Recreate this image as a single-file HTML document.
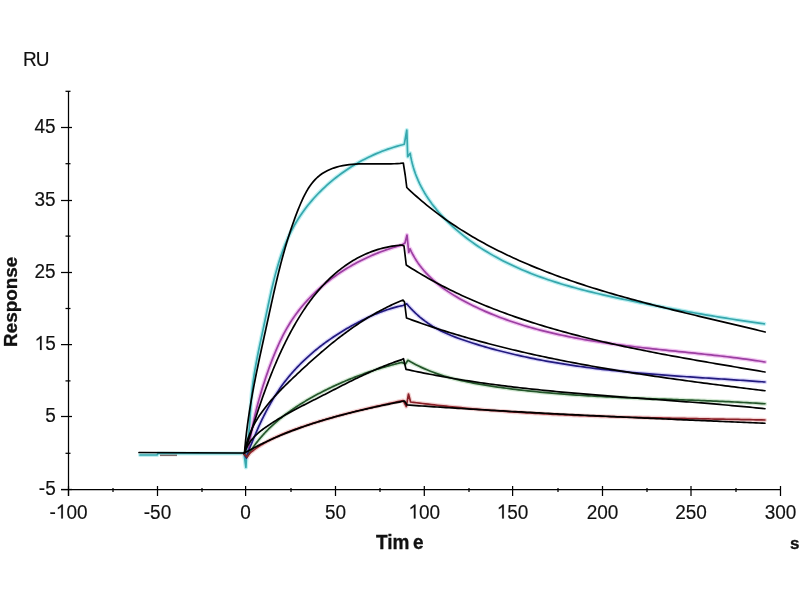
<!DOCTYPE html>
<html><head><meta charset="utf-8"><style>
html,body{margin:0;padding:0;background:#fff;width:800px;height:600px;overflow:hidden}
svg{display:block}
text{font-family:"Liberation Sans",sans-serif;fill:#111}
.lbl{will-change:transform}
</style></head><body>
<svg width="800" height="600" viewBox="0 0 800 600">
<rect width="800" height="600" fill="#fff"/>
<line x1="61" y1="489.5" x2="781" y2="489.5" stroke="#000" stroke-width="1.25"/>
<line x1="68.5" y1="91" x2="68.5" y2="496" stroke="#000" stroke-width="1.25"/>
<line x1="68.5" y1="486" x2="68.5" y2="496" stroke="#000" stroke-width="1.25"/>
<line x1="157.5" y1="486" x2="157.5" y2="496" stroke="#000" stroke-width="1.25"/>
<line x1="245.6" y1="486" x2="245.6" y2="496" stroke="#000" stroke-width="1.25"/>
<line x1="335.5" y1="486" x2="335.5" y2="496" stroke="#000" stroke-width="1.25"/>
<line x1="424.3" y1="486" x2="424.3" y2="496" stroke="#000" stroke-width="1.25"/>
<line x1="512.6" y1="486" x2="512.6" y2="496" stroke="#000" stroke-width="1.25"/>
<line x1="602.5" y1="486" x2="602.5" y2="496" stroke="#000" stroke-width="1.25"/>
<line x1="691" y1="486" x2="691" y2="496" stroke="#000" stroke-width="1.25"/>
<line x1="780.5" y1="486" x2="780.5" y2="496" stroke="#000" stroke-width="1.25"/>
<line x1="113.0" y1="488" x2="113.0" y2="492" stroke="#000" stroke-width="1.25"/>
<line x1="202.0" y1="488" x2="202.0" y2="492" stroke="#000" stroke-width="1.25"/>
<line x1="291.0" y1="488" x2="291.0" y2="492" stroke="#000" stroke-width="1.25"/>
<line x1="380.0" y1="488" x2="380.0" y2="492" stroke="#000" stroke-width="1.25"/>
<line x1="469.0" y1="488" x2="469.0" y2="492" stroke="#000" stroke-width="1.25"/>
<line x1="558.0" y1="488" x2="558.0" y2="492" stroke="#000" stroke-width="1.25"/>
<line x1="647.0" y1="488" x2="647.0" y2="492" stroke="#000" stroke-width="1.25"/>
<line x1="736.0" y1="488" x2="736.0" y2="492" stroke="#000" stroke-width="1.25"/>
<line x1="61" y1="489.5" x2="72" y2="489.5" stroke="#000" stroke-width="1.25"/>
<line x1="61" y1="416.5" x2="72" y2="416.5" stroke="#000" stroke-width="1.25"/>
<line x1="61" y1="344.6" x2="72" y2="344.6" stroke="#000" stroke-width="1.25"/>
<line x1="61" y1="272.5" x2="72" y2="272.5" stroke="#000" stroke-width="1.25"/>
<line x1="61" y1="200.5" x2="72" y2="200.5" stroke="#000" stroke-width="1.25"/>
<line x1="61" y1="127.5" x2="72" y2="127.5" stroke="#000" stroke-width="1.25"/>
<line x1="65.5" y1="453.3" x2="70.5" y2="453.3" stroke="#000" stroke-width="1.25"/>
<line x1="65.5" y1="380.9" x2="70.5" y2="380.9" stroke="#000" stroke-width="1.25"/>
<line x1="65.5" y1="308.5" x2="70.5" y2="308.5" stroke="#000" stroke-width="1.25"/>
<line x1="65.5" y1="236.1" x2="70.5" y2="236.1" stroke="#000" stroke-width="1.25"/>
<line x1="65.5" y1="163.7" x2="70.5" y2="163.7" stroke="#000" stroke-width="1.25"/>
<line x1="65.5" y1="91.30000000000001" x2="70.5" y2="91.30000000000001" stroke="#000" stroke-width="1.25"/>
<path d="M140.00 455.00 L157.00 455.00 L158.00 453.50 L244.00 453.50 L245.90 467.40 L247.00 447.50 L247.48 444.47 L247.91 441.44 L248.30 438.38 L248.64 435.32 L248.94 432.25 L249.21 429.16 L249.46 426.07 L249.68 422.98 L249.89 419.88 L250.09 416.78 L250.28 413.68 L250.47 410.58 L250.67 407.48 L250.87 404.38 L251.09 401.29 L251.33 398.20 L251.60 395.13 L251.89 392.06 L252.22 389.00 L252.58 385.95 L252.97 382.91 L253.39 379.88 L253.84 376.86 L254.30 373.84 L254.80 370.82 L255.31 367.82 L255.85 364.81 L256.40 361.81 L256.97 358.81 L257.56 355.82 L258.15 352.82 L258.76 349.83 L259.39 346.83 L260.01 343.84 L260.65 340.84 L261.29 337.84 L261.94 334.83 L262.58 331.82 L263.23 328.81 L263.88 325.79 L264.52 322.77 L265.16 319.73 L265.80 316.69 L266.43 313.65 L267.07 310.60 L267.71 307.55 L268.35 304.50 L269.00 301.45 L269.66 298.40 L270.32 295.35 L271.01 292.30 L271.70 289.26 L272.41 286.22 L273.14 283.19 L273.88 280.17 L274.65 277.15 L275.44 274.14 L276.26 271.15 L277.10 268.16 L277.97 265.19 L278.87 262.24 L279.80 259.30 L280.77 256.37 L281.78 253.46 L282.82 250.58 L283.90 247.71 L285.02 244.86 L286.19 242.03 L287.40 239.23 L288.66 236.45 L289.97 233.70 L291.33 230.97 L292.74 228.27 L294.21 225.60 L295.73 222.96 L297.31 220.35 L298.94 217.77 L300.63 215.22 L302.37 212.70 L304.16 210.22 L306.00 207.77 L307.89 205.35 L309.83 202.97 L311.81 200.62 L313.84 198.31 L315.91 196.03 L318.03 193.79 L320.19 191.59 L322.40 189.43 L324.64 187.30 L326.92 185.21 L329.24 183.16 L331.60 181.16 L334.00 179.19 L336.43 177.26 L338.89 175.37 L341.39 173.53 L343.92 171.73 L346.48 169.97 L349.07 168.26 L351.68 166.59 L354.33 164.96 L357.00 163.38 L359.70 161.85 L362.42 160.36 L365.17 158.92 L367.94 157.53 L370.73 156.19 L373.53 154.89 L376.36 153.65 L379.21 152.45 L382.07 151.31 L384.95 150.21 L387.85 149.17 L390.75 148.18 L393.67 147.24 L396.61 146.36 L399.55 145.53 L402.50 144.75 L404.30 144.20 L406.80 130.00 L407.70 156.70 L410.20 153.30 L410.80 156.88 L411.52 160.40 L412.36 163.87 L413.30 167.28 L414.35 170.64 L415.51 173.95 L416.77 177.20 L418.13 180.40 L419.58 183.55 L421.13 186.64 L422.76 189.69 L424.48 192.68 L426.29 195.62 L428.17 198.51 L430.13 201.36 L432.17 204.15 L434.28 206.89 L436.45 209.59 L438.69 212.24 L441.00 214.84 L443.36 217.39 L445.78 219.89 L448.25 222.35 L450.77 224.76 L453.33 227.13 L455.95 229.45 L458.60 231.72 L461.30 233.95 L464.04 236.14 L466.82 238.28 L469.64 240.38 L472.49 242.43 L475.38 244.45 L478.31 246.42 L481.26 248.34 L484.25 250.23 L487.26 252.07 L490.30 253.87 L493.37 255.63 L496.46 257.35 L499.58 259.03 L502.71 260.67 L505.87 262.27 L509.04 263.83 L512.23 265.35 L515.43 266.83 L518.65 268.28 L521.88 269.68 L525.12 271.05 L528.38 272.39 L531.64 273.68 L534.91 274.95 L538.20 276.18 L541.49 277.38 L544.79 278.54 L548.10 279.68 L551.42 280.79 L554.75 281.87 L558.09 282.92 L561.43 283.94 L564.78 284.94 L568.14 285.92 L571.51 286.87 L574.88 287.80 L578.26 288.71 L581.64 289.60 L585.03 290.47 L588.43 291.33 L591.83 292.16 L595.23 292.98 L598.64 293.78 L602.06 294.57 L605.47 295.35 L608.89 296.11 L612.32 296.87 L615.74 297.61 L619.17 298.34 L622.60 299.07 L626.04 299.79 L629.47 300.50 L632.91 301.20 L636.35 301.91 L639.79 302.60 L643.23 303.29 L646.67 303.98 L650.11 304.66 L653.55 305.34 L657.00 306.01 L660.44 306.67 L663.89 307.33 L667.34 307.99 L670.79 308.63 L674.24 309.28 L677.69 309.91 L681.14 310.54 L684.60 311.17 L688.05 311.79 L691.51 312.40 L694.97 313.01 L698.42 313.61 L701.88 314.21 L705.34 314.79 L708.80 315.38 L712.27 315.95 L715.73 316.52 L719.19 317.09 L722.66 317.64 L726.12 318.19 L729.59 318.74 L733.06 319.27 L736.52 319.81 L739.99 320.33 L743.46 320.85 L746.93 321.36 L750.41 321.86 L753.88 322.35 L757.35 322.84 L760.83 323.33 L764.30 323.80" stroke="#bff0f2" stroke-width="4.2" fill="none" stroke-linejoin="round" stroke-linecap="round"/>
<path d="M244.00 454.00 L246.50 457.00 L248.50 450.00 L248.82 447.74 L249.15 445.49 L249.49 443.23 L249.85 440.98 L250.23 438.72 L250.62 436.47 L251.02 434.22 L251.44 431.97 L251.87 429.72 L252.32 427.47 L252.78 425.22 L253.25 422.98 L253.74 420.73 L254.24 418.49 L254.75 416.25 L255.28 414.01 L255.82 411.77 L256.37 409.54 L256.94 407.30 L257.52 405.07 L258.11 402.84 L258.72 400.62 L259.33 398.39 L259.97 396.17 L260.61 393.96 L261.26 391.74 L261.93 389.53 L262.61 387.32 L263.30 385.11 L264.01 382.91 L264.73 380.71 L265.45 378.51 L266.19 376.31 L266.95 374.12 L267.71 371.94 L268.48 369.76 L269.27 367.58 L270.07 365.40 L270.88 363.23 L271.70 361.07 L272.53 358.91 L273.38 356.75 L274.25 354.61 L275.13 352.47 L276.02 350.34 L276.94 348.22 L277.87 346.11 L278.82 344.01 L279.79 341.92 L280.78 339.84 L281.80 337.78 L282.83 335.73 L283.89 333.69 L284.98 331.67 L286.08 329.67 L287.22 327.68 L288.38 325.71 L289.56 323.75 L290.78 321.82 L292.02 319.90 L293.30 318.00 L294.60 316.13 L295.93 314.27 L297.29 312.43 L298.68 310.62 L300.10 308.82 L301.54 307.04 L303.01 305.29 L304.50 303.55 L306.02 301.84 L307.57 300.15 L309.14 298.47 L310.73 296.82 L312.35 295.19 L313.99 293.58 L315.66 291.99 L317.34 290.42 L319.05 288.88 L320.78 287.35 L322.53 285.85 L324.30 284.37 L326.09 282.91 L327.90 281.47 L329.73 280.06 L331.57 278.66 L333.44 277.29 L335.32 275.94 L337.22 274.61 L339.13 273.31 L341.07 272.03 L343.01 270.77 L344.98 269.53 L346.95 268.31 L348.95 267.12 L350.95 265.95 L352.97 264.81 L355.00 263.68 L357.05 262.58 L359.10 261.51 L361.17 260.45 L363.25 259.42 L365.34 258.42 L367.44 257.44 L369.55 256.48 L371.66 255.54 L373.79 254.63 L375.92 253.74 L378.07 252.88 L380.21 252.04 L382.37 251.23 L384.53 250.44 L386.70 249.67 L388.87 248.93 L391.05 248.21 L393.23 247.52 L395.42 246.85 L397.61 246.21 L399.80 245.59 L402.00 245.00 L405.00 243.00 L407.00 235.00 L408.75 252.50 L410.00 248.75 L411.43 251.81 L412.96 254.77 L414.59 257.64 L416.31 260.43 L418.12 263.13 L420.02 265.75 L422.00 268.29 L424.06 270.76 L426.19 273.15 L428.39 275.46 L430.67 277.70 L433.01 279.88 L435.41 281.99 L437.86 284.04 L440.38 286.02 L442.94 287.95 L445.55 289.82 L448.20 291.64 L450.90 293.40 L453.63 295.12 L456.40 296.79 L459.20 298.41 L462.02 299.99 L464.86 301.53 L467.73 303.03 L470.61 304.50 L473.51 305.93 L476.42 307.34 L479.34 308.71 L482.27 310.04 L485.21 311.35 L488.17 312.62 L491.14 313.87 L494.12 315.08 L497.11 316.27 L500.11 317.43 L503.13 318.56 L506.15 319.66 L509.19 320.73 L512.23 321.78 L515.28 322.80 L518.35 323.79 L521.42 324.76 L524.50 325.71 L527.59 326.63 L530.69 327.52 L533.80 328.40 L536.92 329.25 L540.04 330.07 L543.17 330.88 L546.31 331.66 L549.46 332.43 L552.61 333.17 L555.78 333.89 L558.94 334.60 L562.12 335.28 L565.30 335.95 L568.48 336.60 L571.68 337.23 L574.87 337.85 L578.08 338.44 L581.28 339.03 L584.50 339.59 L587.71 340.14 L590.93 340.68 L594.16 341.21 L597.39 341.72 L600.62 342.21 L603.86 342.70 L607.10 343.17 L610.34 343.63 L613.59 344.08 L616.83 344.52 L620.08 344.95 L623.34 345.37 L626.59 345.78 L629.85 346.19 L633.10 346.58 L636.36 346.97 L639.62 347.35 L642.88 347.72 L646.14 348.09 L649.40 348.45 L652.66 348.81 L655.92 349.16 L659.18 349.51 L662.44 349.86 L665.70 350.20 L668.96 350.54 L672.21 350.88 L675.47 351.21 L678.72 351.55 L681.97 351.88 L685.22 352.22 L688.46 352.55 L691.70 352.89 L694.94 353.22 L698.18 353.56 L701.41 353.90 L704.64 354.25 L707.87 354.60 L711.09 354.95 L714.31 355.30 L717.52 355.66 L720.73 356.03 L723.93 356.40 L727.13 356.78 L730.32 357.17 L733.50 357.56 L736.68 357.96 L739.86 358.37 L743.03 358.79 L746.19 359.21 L749.34 359.65 L752.49 360.10 L755.63 360.56 L758.76 361.03 L761.88 361.51 L765.00 362.00" stroke="#f2c6f2" stroke-width="4.2" fill="none" stroke-linejoin="round" stroke-linecap="round"/>
<path d="M244.00 454.00 L246.50 458.00 L249.00 450.00 L249.67 448.27 L250.35 446.54 L251.04 444.81 L251.73 443.08 L252.43 441.35 L253.13 439.63 L253.84 437.91 L254.56 436.19 L255.28 434.48 L256.02 432.77 L256.76 431.06 L257.51 429.36 L258.27 427.66 L259.03 425.97 L259.81 424.28 L260.59 422.59 L261.39 420.92 L262.19 419.24 L263.01 417.57 L263.83 415.91 L264.67 414.26 L265.51 412.61 L266.37 410.97 L267.24 409.33 L268.12 407.70 L269.01 406.08 L269.91 404.47 L270.83 402.86 L271.76 401.27 L272.70 399.68 L273.65 398.10 L274.62 396.53 L275.60 394.97 L276.59 393.42 L277.60 391.88 L278.62 390.35 L279.66 388.83 L280.71 387.32 L281.78 385.82 L282.86 384.33 L283.96 382.85 L285.07 381.38 L286.20 379.93 L287.35 378.49 L288.51 377.06 L289.68 375.64 L290.87 374.23 L292.08 372.84 L293.30 371.45 L294.54 370.08 L295.79 368.72 L297.05 367.38 L298.33 366.04 L299.62 364.72 L300.93 363.41 L302.25 362.11 L303.58 360.82 L304.92 359.54 L306.28 358.28 L307.65 357.02 L309.03 355.78 L310.42 354.55 L311.83 353.34 L313.24 352.13 L314.67 350.94 L316.11 349.75 L317.56 348.58 L319.02 347.42 L320.49 346.28 L321.97 345.14 L323.46 344.02 L324.96 342.91 L326.47 341.81 L327.98 340.72 L329.51 339.64 L331.05 338.58 L332.59 337.52 L334.14 336.48 L335.70 335.45 L337.27 334.44 L338.85 333.43 L340.43 332.43 L342.02 331.45 L343.62 330.48 L345.22 329.52 L346.83 328.57 L348.45 327.64 L350.07 326.71 L351.70 325.80 L353.33 324.90 L354.97 324.01 L356.62 323.13 L358.27 322.26 L359.92 321.41 L361.58 320.57 L363.24 319.74 L364.91 318.92 L366.58 318.11 L368.26 317.32 L369.94 316.55 L371.63 315.79 L373.32 315.05 L375.02 314.32 L376.72 313.61 L378.43 312.92 L380.15 312.25 L381.87 311.59 L383.59 310.96 L385.33 310.35 L387.06 309.76 L388.81 309.19 L390.56 308.64 L392.32 308.12 L394.08 307.62 L395.85 307.14 L397.63 306.69 L399.41 306.27 L401.20 305.87 L403.00 305.50 L406.70 303.75 L408.80 306.21 L410.97 308.58 L413.19 310.88 L415.46 313.10 L417.79 315.25 L420.18 317.31 L422.61 319.28 L425.10 321.18 L427.64 323.00 L430.22 324.74 L432.86 326.39 L435.54 327.96 L438.26 329.46 L441.02 330.89 L443.82 332.25 L446.65 333.54 L449.52 334.78 L452.41 335.97 L455.32 337.11 L458.25 338.21 L461.20 339.27 L464.17 340.30 L467.15 341.30 L470.13 342.27 L473.12 343.23 L476.12 344.16 L479.12 345.08 L482.12 345.98 L485.13 346.86 L488.15 347.72 L491.17 348.57 L494.19 349.40 L497.22 350.21 L500.25 351.00 L503.28 351.78 L506.32 352.54 L509.37 353.28 L512.41 354.01 L515.46 354.73 L518.52 355.42 L521.58 356.11 L524.64 356.77 L527.71 357.43 L530.77 358.07 L533.85 358.69 L536.92 359.30 L540.00 359.90 L543.08 360.48 L546.17 361.05 L549.26 361.60 L552.35 362.15 L555.44 362.68 L558.54 363.20 L561.64 363.70 L564.74 364.20 L567.84 364.68 L570.95 365.15 L574.06 365.61 L577.17 366.06 L580.28 366.50 L583.40 366.92 L586.52 367.34 L589.64 367.75 L592.76 368.15 L595.88 368.54 L599.00 368.92 L602.13 369.29 L605.26 369.65 L608.39 370.00 L611.52 370.35 L614.65 370.68 L617.78 371.01 L620.92 371.33 L624.05 371.64 L627.19 371.95 L630.33 372.25 L633.47 372.54 L636.61 372.83 L639.75 373.11 L642.89 373.39 L646.03 373.65 L649.17 373.92 L652.31 374.18 L655.45 374.43 L658.59 374.68 L661.74 374.92 L664.88 375.16 L668.02 375.40 L671.16 375.63 L674.31 375.86 L677.45 376.08 L680.59 376.30 L683.73 376.52 L686.87 376.74 L690.01 376.95 L693.15 377.16 L696.29 377.37 L699.43 377.58 L702.56 377.79 L705.70 378.00 L708.83 378.20 L711.97 378.40 L715.10 378.61 L718.23 378.81 L721.36 379.02 L724.49 379.22 L727.62 379.42 L730.74 379.63 L733.87 379.83 L736.99 380.04 L740.11 380.25 L743.23 380.46 L746.35 380.67 L749.46 380.89 L752.57 381.10 L755.68 381.32 L758.79 381.55 L761.90 381.77 L765.00 382.00" stroke="#dcd8fa" stroke-width="4.2" fill="none" stroke-linejoin="round" stroke-linecap="round"/>
<path d="M244.00 454.00 L247.00 457.00 L250.00 452.00 L250.82 450.72 L251.66 449.46 L252.51 448.20 L253.38 446.96 L254.26 445.73 L255.15 444.52 L256.06 443.31 L256.97 442.12 L257.91 440.94 L258.85 439.77 L259.81 438.61 L260.78 437.47 L261.76 436.33 L262.76 435.21 L263.76 434.09 L264.78 432.99 L265.81 431.90 L266.85 430.82 L267.90 429.75 L268.96 428.69 L270.04 427.65 L271.12 426.61 L272.22 425.58 L273.32 424.56 L274.43 423.56 L275.56 422.56 L276.69 421.57 L277.84 420.59 L278.99 419.63 L280.15 418.67 L281.32 417.72 L282.50 416.78 L283.69 415.85 L284.88 414.93 L286.09 414.02 L287.30 413.12 L288.52 412.22 L289.74 411.34 L290.98 410.46 L292.22 409.59 L293.47 408.73 L294.73 407.88 L295.99 407.04 L297.26 406.20 L298.53 405.38 L299.81 404.56 L301.10 403.75 L302.39 402.94 L303.69 402.15 L305.00 401.36 L306.30 400.58 L307.62 399.81 L308.94 399.04 L310.26 398.28 L311.59 397.53 L312.92 396.79 L314.26 396.05 L315.60 395.32 L316.94 394.59 L318.29 393.87 L319.64 393.16 L320.99 392.46 L322.35 391.76 L323.71 391.06 L325.07 390.38 L326.43 389.70 L327.80 389.02 L329.17 388.36 L330.55 387.69 L331.92 387.04 L333.30 386.39 L334.69 385.75 L336.07 385.11 L337.46 384.48 L338.85 383.86 L340.24 383.24 L341.63 382.63 L343.03 382.02 L344.43 381.42 L345.83 380.83 L347.24 380.24 L348.64 379.66 L350.05 379.09 L351.46 378.52 L352.87 377.95 L354.29 377.40 L355.70 376.85 L357.12 376.30 L358.54 375.76 L359.96 375.23 L361.39 374.71 L362.81 374.19 L364.24 373.67 L365.67 373.16 L367.10 372.66 L368.53 372.16 L369.97 371.67 L371.40 371.19 L372.84 370.71 L374.28 370.24 L375.72 369.77 L377.16 369.31 L378.60 368.86 L380.04 368.41 L381.48 367.97 L382.93 367.53 L384.38 367.10 L385.82 366.68 L387.27 366.26 L388.72 365.85 L390.17 365.44 L391.62 365.04 L393.07 364.65 L394.53 364.26 L395.98 363.87 L397.43 363.50 L398.89 363.13 L400.34 362.76 L401.80 362.40 L405.50 364.00 L407.90 360.30 L410.56 361.84 L413.25 363.31 L415.95 364.72 L418.68 366.07 L421.43 367.37 L424.19 368.62 L426.97 369.81 L429.77 370.95 L432.59 372.04 L435.42 373.09 L438.27 374.09 L441.14 375.04 L444.02 375.95 L446.91 376.82 L449.81 377.66 L452.73 378.45 L455.66 379.21 L458.59 379.93 L461.54 380.63 L464.50 381.29 L467.47 381.92 L470.44 382.53 L473.42 383.11 L476.41 383.67 L479.40 384.20 L482.40 384.71 L485.41 385.21 L488.42 385.69 L491.43 386.15 L494.44 386.60 L497.46 387.04 L500.47 387.46 L503.49 387.88 L506.51 388.28 L509.53 388.67 L512.55 389.06 L515.58 389.43 L518.60 389.79 L521.63 390.14 L524.66 390.49 L527.69 390.82 L530.72 391.15 L533.75 391.46 L536.78 391.77 L539.81 392.07 L542.85 392.35 L545.88 392.64 L548.92 392.91 L551.96 393.17 L555.00 393.43 L558.03 393.68 L561.07 393.92 L564.12 394.16 L567.16 394.39 L570.20 394.61 L573.24 394.83 L576.29 395.04 L579.33 395.24 L582.38 395.44 L585.42 395.63 L588.47 395.81 L591.52 395.99 L594.56 396.17 L597.61 396.34 L600.66 396.50 L603.71 396.66 L606.76 396.82 L609.80 396.97 L612.85 397.12 L615.90 397.27 L618.95 397.41 L622.00 397.54 L625.06 397.68 L628.11 397.81 L631.16 397.94 L634.21 398.06 L637.26 398.19 L640.31 398.31 L643.36 398.43 L646.41 398.55 L649.46 398.66 L652.51 398.78 L655.56 398.89 L658.61 399.00 L661.66 399.11 L664.71 399.22 L667.76 399.33 L670.81 399.44 L673.86 399.55 L676.91 399.66 L679.96 399.77 L683.00 399.88 L686.05 399.99 L689.10 400.10 L692.14 400.22 L695.19 400.33 L698.23 400.45 L701.28 400.56 L704.32 400.68 L707.36 400.80 L710.41 400.93 L713.45 401.05 L716.49 401.18 L719.53 401.31 L722.57 401.45 L725.60 401.58 L728.64 401.72 L731.68 401.87 L734.71 402.02 L737.75 402.17 L740.78 402.33 L743.81 402.49 L746.84 402.65 L749.87 402.82 L752.90 403.00 L755.93 403.18 L758.95 403.36 L761.98 403.55 L765.00 403.75" stroke="#d6ead6" stroke-width="4.2" fill="none" stroke-linejoin="round" stroke-linecap="round"/>
<path d="M244.00 454.00 L247.00 457.00 L250.00 453.00 L251.04 452.14 L252.10 451.31 L253.17 450.49 L254.25 449.68 L255.33 448.89 L256.44 448.11 L257.55 447.35 L258.67 446.60 L259.80 445.87 L260.94 445.15 L262.08 444.44 L263.24 443.75 L264.41 443.06 L265.58 442.39 L266.77 441.73 L267.96 441.09 L269.16 440.45 L270.36 439.83 L271.58 439.21 L272.80 438.61 L274.02 438.02 L275.26 437.43 L276.50 436.86 L277.74 436.29 L278.99 435.74 L280.25 435.19 L281.51 434.65 L282.77 434.12 L284.04 433.59 L285.32 433.08 L286.60 432.57 L287.88 432.06 L289.16 431.57 L290.45 431.08 L291.74 430.59 L293.04 430.11 L294.33 429.64 L295.63 429.17 L296.93 428.71 L298.23 428.25 L299.54 427.79 L300.84 427.34 L302.15 426.89 L303.45 426.45 L304.76 426.01 L306.07 425.57 L307.38 425.13 L308.69 424.70 L310.00 424.28 L311.31 423.85 L312.63 423.43 L313.94 423.01 L315.25 422.60 L316.57 422.19 L317.89 421.78 L319.20 421.38 L320.52 420.98 L321.84 420.58 L323.16 420.18 L324.48 419.79 L325.80 419.40 L327.12 419.02 L328.45 418.63 L329.77 418.25 L331.09 417.87 L332.42 417.50 L333.74 417.13 L335.07 416.76 L336.40 416.39 L337.72 416.02 L339.05 415.66 L340.38 415.30 L341.71 414.95 L343.04 414.59 L344.37 414.24 L345.70 413.89 L347.03 413.54 L348.36 413.20 L349.69 412.85 L351.02 412.51 L352.36 412.17 L353.69 411.84 L355.03 411.50 L356.36 411.17 L357.69 410.84 L359.03 410.51 L360.36 410.18 L361.70 409.86 L363.04 409.54 L364.37 409.21 L365.71 408.89 L367.05 408.58 L368.38 408.26 L369.72 407.95 L371.06 407.63 L372.40 407.32 L373.73 407.01 L375.07 406.70 L376.41 406.40 L377.75 406.09 L379.09 405.79 L380.43 405.48 L381.77 405.18 L383.11 404.88 L384.45 404.58 L385.79 404.29 L387.13 403.99 L388.47 403.69 L389.80 403.40 L391.14 403.10 L392.48 402.81 L393.82 402.52 L395.16 402.23 L396.50 401.94 L397.84 401.65 L399.18 401.36 L400.52 401.07 L401.86 400.79 L403.20 400.50 L406.30 406.50 L408.50 394.00 L410.60 402.00 L413.56 402.38 L416.52 402.76 L419.48 403.13 L422.44 403.50 L425.40 403.85 L428.36 404.21 L431.32 404.55 L434.29 404.89 L437.25 405.23 L440.21 405.55 L443.18 405.88 L446.14 406.19 L449.11 406.50 L452.08 406.81 L455.04 407.11 L458.01 407.40 L460.98 407.69 L463.95 407.98 L466.92 408.26 L469.89 408.53 L472.86 408.80 L475.83 409.06 L478.80 409.32 L481.77 409.57 L484.74 409.82 L487.71 410.06 L490.69 410.30 L493.66 410.53 L496.63 410.76 L499.61 410.99 L502.58 411.21 L505.56 411.42 L508.53 411.63 L511.51 411.84 L514.48 412.04 L517.46 412.24 L520.44 412.43 L523.41 412.62 L526.39 412.81 L529.37 412.99 L532.35 413.17 L535.33 413.34 L538.31 413.51 L541.29 413.68 L544.26 413.84 L547.24 414.00 L550.22 414.16 L553.20 414.31 L556.19 414.46 L559.17 414.60 L562.15 414.74 L565.13 414.88 L568.11 415.02 L571.09 415.15 L574.07 415.28 L577.06 415.41 L580.04 415.53 L583.02 415.65 L586.00 415.77 L588.99 415.88 L591.97 416.00 L594.95 416.10 L597.94 416.21 L600.92 416.32 L603.90 416.42 L606.89 416.52 L609.87 416.62 L612.86 416.71 L615.84 416.80 L618.82 416.89 L621.81 416.98 L624.79 417.07 L627.78 417.15 L630.76 417.24 L633.75 417.32 L636.73 417.40 L639.72 417.47 L642.70 417.55 L645.69 417.62 L648.67 417.70 L651.66 417.77 L654.64 417.84 L657.62 417.91 L660.61 417.97 L663.59 418.04 L666.58 418.10 L669.56 418.17 L672.55 418.23 L675.53 418.29 L678.52 418.35 L681.50 418.41 L684.49 418.47 L687.47 418.53 L690.45 418.59 L693.44 418.65 L696.42 418.70 L699.41 418.76 L702.39 418.81 L705.37 418.87 L708.36 418.93 L711.34 418.98 L714.32 419.04 L717.31 419.09 L720.29 419.14 L723.27 419.20 L726.25 419.25 L729.23 419.31 L732.22 419.36 L735.20 419.42 L738.18 419.47 L741.16 419.53 L744.14 419.59 L747.12 419.64 L750.10 419.70 L753.08 419.76 L756.06 419.82 L759.04 419.88 L762.02 419.94 L765.00 420.00" stroke="#f2d2d2" stroke-width="4.2" fill="none" stroke-linejoin="round" stroke-linecap="round"/>
<line x1="160" y1="455.3" x2="177" y2="455.3" stroke="#7a6a6a" stroke-width="1.6"/>
<path d="M140.00 455.00 L157.00 455.00 L158.00 453.50 L244.00 453.50 L245.90 467.40 L247.00 447.50 L247.48 444.47 L247.91 441.44 L248.30 438.38 L248.64 435.32 L248.94 432.25 L249.21 429.16 L249.46 426.07 L249.68 422.98 L249.89 419.88 L250.09 416.78 L250.28 413.68 L250.47 410.58 L250.67 407.48 L250.87 404.38 L251.09 401.29 L251.33 398.20 L251.60 395.13 L251.89 392.06 L252.22 389.00 L252.58 385.95 L252.97 382.91 L253.39 379.88 L253.84 376.86 L254.30 373.84 L254.80 370.82 L255.31 367.82 L255.85 364.81 L256.40 361.81 L256.97 358.81 L257.56 355.82 L258.15 352.82 L258.76 349.83 L259.39 346.83 L260.01 343.84 L260.65 340.84 L261.29 337.84 L261.94 334.83 L262.58 331.82 L263.23 328.81 L263.88 325.79 L264.52 322.77 L265.16 319.73 L265.80 316.69 L266.43 313.65 L267.07 310.60 L267.71 307.55 L268.35 304.50 L269.00 301.45 L269.66 298.40 L270.32 295.35 L271.01 292.30 L271.70 289.26 L272.41 286.22 L273.14 283.19 L273.88 280.17 L274.65 277.15 L275.44 274.14 L276.26 271.15 L277.10 268.16 L277.97 265.19 L278.87 262.24 L279.80 259.30 L280.77 256.37 L281.78 253.46 L282.82 250.58 L283.90 247.71 L285.02 244.86 L286.19 242.03 L287.40 239.23 L288.66 236.45 L289.97 233.70 L291.33 230.97 L292.74 228.27 L294.21 225.60 L295.73 222.96 L297.31 220.35 L298.94 217.77 L300.63 215.22 L302.37 212.70 L304.16 210.22 L306.00 207.77 L307.89 205.35 L309.83 202.97 L311.81 200.62 L313.84 198.31 L315.91 196.03 L318.03 193.79 L320.19 191.59 L322.40 189.43 L324.64 187.30 L326.92 185.21 L329.24 183.16 L331.60 181.16 L334.00 179.19 L336.43 177.26 L338.89 175.37 L341.39 173.53 L343.92 171.73 L346.48 169.97 L349.07 168.26 L351.68 166.59 L354.33 164.96 L357.00 163.38 L359.70 161.85 L362.42 160.36 L365.17 158.92 L367.94 157.53 L370.73 156.19 L373.53 154.89 L376.36 153.65 L379.21 152.45 L382.07 151.31 L384.95 150.21 L387.85 149.17 L390.75 148.18 L393.67 147.24 L396.61 146.36 L399.55 145.53 L402.50 144.75 L404.30 144.20 L406.80 130.00 L407.70 156.70 L410.20 153.30 L410.80 156.88 L411.52 160.40 L412.36 163.87 L413.30 167.28 L414.35 170.64 L415.51 173.95 L416.77 177.20 L418.13 180.40 L419.58 183.55 L421.13 186.64 L422.76 189.69 L424.48 192.68 L426.29 195.62 L428.17 198.51 L430.13 201.36 L432.17 204.15 L434.28 206.89 L436.45 209.59 L438.69 212.24 L441.00 214.84 L443.36 217.39 L445.78 219.89 L448.25 222.35 L450.77 224.76 L453.33 227.13 L455.95 229.45 L458.60 231.72 L461.30 233.95 L464.04 236.14 L466.82 238.28 L469.64 240.38 L472.49 242.43 L475.38 244.45 L478.31 246.42 L481.26 248.34 L484.25 250.23 L487.26 252.07 L490.30 253.87 L493.37 255.63 L496.46 257.35 L499.58 259.03 L502.71 260.67 L505.87 262.27 L509.04 263.83 L512.23 265.35 L515.43 266.83 L518.65 268.28 L521.88 269.68 L525.12 271.05 L528.38 272.39 L531.64 273.68 L534.91 274.95 L538.20 276.18 L541.49 277.38 L544.79 278.54 L548.10 279.68 L551.42 280.79 L554.75 281.87 L558.09 282.92 L561.43 283.94 L564.78 284.94 L568.14 285.92 L571.51 286.87 L574.88 287.80 L578.26 288.71 L581.64 289.60 L585.03 290.47 L588.43 291.33 L591.83 292.16 L595.23 292.98 L598.64 293.78 L602.06 294.57 L605.47 295.35 L608.89 296.11 L612.32 296.87 L615.74 297.61 L619.17 298.34 L622.60 299.07 L626.04 299.79 L629.47 300.50 L632.91 301.20 L636.35 301.91 L639.79 302.60 L643.23 303.29 L646.67 303.98 L650.11 304.66 L653.55 305.34 L657.00 306.01 L660.44 306.67 L663.89 307.33 L667.34 307.99 L670.79 308.63 L674.24 309.28 L677.69 309.91 L681.14 310.54 L684.60 311.17 L688.05 311.79 L691.51 312.40 L694.97 313.01 L698.42 313.61 L701.88 314.21 L705.34 314.79 L708.80 315.38 L712.27 315.95 L715.73 316.52 L719.19 317.09 L722.66 317.64 L726.12 318.19 L729.59 318.74 L733.06 319.27 L736.52 319.81 L739.99 320.33 L743.46 320.85 L746.93 321.36 L750.41 321.86 L753.88 322.35 L757.35 322.84 L760.83 323.33 L764.30 323.80" stroke="#36a7ad" stroke-width="1.7" fill="none" stroke-linejoin="round" stroke-linecap="round"/>
<path d="M244.00 454.00 L246.50 457.00 L248.50 450.00 L248.82 447.74 L249.15 445.49 L249.49 443.23 L249.85 440.98 L250.23 438.72 L250.62 436.47 L251.02 434.22 L251.44 431.97 L251.87 429.72 L252.32 427.47 L252.78 425.22 L253.25 422.98 L253.74 420.73 L254.24 418.49 L254.75 416.25 L255.28 414.01 L255.82 411.77 L256.37 409.54 L256.94 407.30 L257.52 405.07 L258.11 402.84 L258.72 400.62 L259.33 398.39 L259.97 396.17 L260.61 393.96 L261.26 391.74 L261.93 389.53 L262.61 387.32 L263.30 385.11 L264.01 382.91 L264.73 380.71 L265.45 378.51 L266.19 376.31 L266.95 374.12 L267.71 371.94 L268.48 369.76 L269.27 367.58 L270.07 365.40 L270.88 363.23 L271.70 361.07 L272.53 358.91 L273.38 356.75 L274.25 354.61 L275.13 352.47 L276.02 350.34 L276.94 348.22 L277.87 346.11 L278.82 344.01 L279.79 341.92 L280.78 339.84 L281.80 337.78 L282.83 335.73 L283.89 333.69 L284.98 331.67 L286.08 329.67 L287.22 327.68 L288.38 325.71 L289.56 323.75 L290.78 321.82 L292.02 319.90 L293.30 318.00 L294.60 316.13 L295.93 314.27 L297.29 312.43 L298.68 310.62 L300.10 308.82 L301.54 307.04 L303.01 305.29 L304.50 303.55 L306.02 301.84 L307.57 300.15 L309.14 298.47 L310.73 296.82 L312.35 295.19 L313.99 293.58 L315.66 291.99 L317.34 290.42 L319.05 288.88 L320.78 287.35 L322.53 285.85 L324.30 284.37 L326.09 282.91 L327.90 281.47 L329.73 280.06 L331.57 278.66 L333.44 277.29 L335.32 275.94 L337.22 274.61 L339.13 273.31 L341.07 272.03 L343.01 270.77 L344.98 269.53 L346.95 268.31 L348.95 267.12 L350.95 265.95 L352.97 264.81 L355.00 263.68 L357.05 262.58 L359.10 261.51 L361.17 260.45 L363.25 259.42 L365.34 258.42 L367.44 257.44 L369.55 256.48 L371.66 255.54 L373.79 254.63 L375.92 253.74 L378.07 252.88 L380.21 252.04 L382.37 251.23 L384.53 250.44 L386.70 249.67 L388.87 248.93 L391.05 248.21 L393.23 247.52 L395.42 246.85 L397.61 246.21 L399.80 245.59 L402.00 245.00 L405.00 243.00 L407.00 235.00 L408.75 252.50 L410.00 248.75 L411.43 251.81 L412.96 254.77 L414.59 257.64 L416.31 260.43 L418.12 263.13 L420.02 265.75 L422.00 268.29 L424.06 270.76 L426.19 273.15 L428.39 275.46 L430.67 277.70 L433.01 279.88 L435.41 281.99 L437.86 284.04 L440.38 286.02 L442.94 287.95 L445.55 289.82 L448.20 291.64 L450.90 293.40 L453.63 295.12 L456.40 296.79 L459.20 298.41 L462.02 299.99 L464.86 301.53 L467.73 303.03 L470.61 304.50 L473.51 305.93 L476.42 307.34 L479.34 308.71 L482.27 310.04 L485.21 311.35 L488.17 312.62 L491.14 313.87 L494.12 315.08 L497.11 316.27 L500.11 317.43 L503.13 318.56 L506.15 319.66 L509.19 320.73 L512.23 321.78 L515.28 322.80 L518.35 323.79 L521.42 324.76 L524.50 325.71 L527.59 326.63 L530.69 327.52 L533.80 328.40 L536.92 329.25 L540.04 330.07 L543.17 330.88 L546.31 331.66 L549.46 332.43 L552.61 333.17 L555.78 333.89 L558.94 334.60 L562.12 335.28 L565.30 335.95 L568.48 336.60 L571.68 337.23 L574.87 337.85 L578.08 338.44 L581.28 339.03 L584.50 339.59 L587.71 340.14 L590.93 340.68 L594.16 341.21 L597.39 341.72 L600.62 342.21 L603.86 342.70 L607.10 343.17 L610.34 343.63 L613.59 344.08 L616.83 344.52 L620.08 344.95 L623.34 345.37 L626.59 345.78 L629.85 346.19 L633.10 346.58 L636.36 346.97 L639.62 347.35 L642.88 347.72 L646.14 348.09 L649.40 348.45 L652.66 348.81 L655.92 349.16 L659.18 349.51 L662.44 349.86 L665.70 350.20 L668.96 350.54 L672.21 350.88 L675.47 351.21 L678.72 351.55 L681.97 351.88 L685.22 352.22 L688.46 352.55 L691.70 352.89 L694.94 353.22 L698.18 353.56 L701.41 353.90 L704.64 354.25 L707.87 354.60 L711.09 354.95 L714.31 355.30 L717.52 355.66 L720.73 356.03 L723.93 356.40 L727.13 356.78 L730.32 357.17 L733.50 357.56 L736.68 357.96 L739.86 358.37 L743.03 358.79 L746.19 359.21 L749.34 359.65 L752.49 360.10 L755.63 360.56 L758.76 361.03 L761.88 361.51 L765.00 362.00" stroke="#9c3fa2" stroke-width="1.7" fill="none" stroke-linejoin="round" stroke-linecap="round"/>
<path d="M244.00 454.00 L246.50 458.00 L249.00 450.00 L249.67 448.27 L250.35 446.54 L251.04 444.81 L251.73 443.08 L252.43 441.35 L253.13 439.63 L253.84 437.91 L254.56 436.19 L255.28 434.48 L256.02 432.77 L256.76 431.06 L257.51 429.36 L258.27 427.66 L259.03 425.97 L259.81 424.28 L260.59 422.59 L261.39 420.92 L262.19 419.24 L263.01 417.57 L263.83 415.91 L264.67 414.26 L265.51 412.61 L266.37 410.97 L267.24 409.33 L268.12 407.70 L269.01 406.08 L269.91 404.47 L270.83 402.86 L271.76 401.27 L272.70 399.68 L273.65 398.10 L274.62 396.53 L275.60 394.97 L276.59 393.42 L277.60 391.88 L278.62 390.35 L279.66 388.83 L280.71 387.32 L281.78 385.82 L282.86 384.33 L283.96 382.85 L285.07 381.38 L286.20 379.93 L287.35 378.49 L288.51 377.06 L289.68 375.64 L290.87 374.23 L292.08 372.84 L293.30 371.45 L294.54 370.08 L295.79 368.72 L297.05 367.38 L298.33 366.04 L299.62 364.72 L300.93 363.41 L302.25 362.11 L303.58 360.82 L304.92 359.54 L306.28 358.28 L307.65 357.02 L309.03 355.78 L310.42 354.55 L311.83 353.34 L313.24 352.13 L314.67 350.94 L316.11 349.75 L317.56 348.58 L319.02 347.42 L320.49 346.28 L321.97 345.14 L323.46 344.02 L324.96 342.91 L326.47 341.81 L327.98 340.72 L329.51 339.64 L331.05 338.58 L332.59 337.52 L334.14 336.48 L335.70 335.45 L337.27 334.44 L338.85 333.43 L340.43 332.43 L342.02 331.45 L343.62 330.48 L345.22 329.52 L346.83 328.57 L348.45 327.64 L350.07 326.71 L351.70 325.80 L353.33 324.90 L354.97 324.01 L356.62 323.13 L358.27 322.26 L359.92 321.41 L361.58 320.57 L363.24 319.74 L364.91 318.92 L366.58 318.11 L368.26 317.32 L369.94 316.55 L371.63 315.79 L373.32 315.05 L375.02 314.32 L376.72 313.61 L378.43 312.92 L380.15 312.25 L381.87 311.59 L383.59 310.96 L385.33 310.35 L387.06 309.76 L388.81 309.19 L390.56 308.64 L392.32 308.12 L394.08 307.62 L395.85 307.14 L397.63 306.69 L399.41 306.27 L401.20 305.87 L403.00 305.50 L406.70 303.75 L408.80 306.21 L410.97 308.58 L413.19 310.88 L415.46 313.10 L417.79 315.25 L420.18 317.31 L422.61 319.28 L425.10 321.18 L427.64 323.00 L430.22 324.74 L432.86 326.39 L435.54 327.96 L438.26 329.46 L441.02 330.89 L443.82 332.25 L446.65 333.54 L449.52 334.78 L452.41 335.97 L455.32 337.11 L458.25 338.21 L461.20 339.27 L464.17 340.30 L467.15 341.30 L470.13 342.27 L473.12 343.23 L476.12 344.16 L479.12 345.08 L482.12 345.98 L485.13 346.86 L488.15 347.72 L491.17 348.57 L494.19 349.40 L497.22 350.21 L500.25 351.00 L503.28 351.78 L506.32 352.54 L509.37 353.28 L512.41 354.01 L515.46 354.73 L518.52 355.42 L521.58 356.11 L524.64 356.77 L527.71 357.43 L530.77 358.07 L533.85 358.69 L536.92 359.30 L540.00 359.90 L543.08 360.48 L546.17 361.05 L549.26 361.60 L552.35 362.15 L555.44 362.68 L558.54 363.20 L561.64 363.70 L564.74 364.20 L567.84 364.68 L570.95 365.15 L574.06 365.61 L577.17 366.06 L580.28 366.50 L583.40 366.92 L586.52 367.34 L589.64 367.75 L592.76 368.15 L595.88 368.54 L599.00 368.92 L602.13 369.29 L605.26 369.65 L608.39 370.00 L611.52 370.35 L614.65 370.68 L617.78 371.01 L620.92 371.33 L624.05 371.64 L627.19 371.95 L630.33 372.25 L633.47 372.54 L636.61 372.83 L639.75 373.11 L642.89 373.39 L646.03 373.65 L649.17 373.92 L652.31 374.18 L655.45 374.43 L658.59 374.68 L661.74 374.92 L664.88 375.16 L668.02 375.40 L671.16 375.63 L674.31 375.86 L677.45 376.08 L680.59 376.30 L683.73 376.52 L686.87 376.74 L690.01 376.95 L693.15 377.16 L696.29 377.37 L699.43 377.58 L702.56 377.79 L705.70 378.00 L708.83 378.20 L711.97 378.40 L715.10 378.61 L718.23 378.81 L721.36 379.02 L724.49 379.22 L727.62 379.42 L730.74 379.63 L733.87 379.83 L736.99 380.04 L740.11 380.25 L743.23 380.46 L746.35 380.67 L749.46 380.89 L752.57 381.10 L755.68 381.32 L758.79 381.55 L761.90 381.77 L765.00 382.00" stroke="#221a80" stroke-width="1.7" fill="none" stroke-linejoin="round" stroke-linecap="round"/>
<path d="M244.00 454.00 L247.00 457.00 L250.00 452.00 L250.82 450.72 L251.66 449.46 L252.51 448.20 L253.38 446.96 L254.26 445.73 L255.15 444.52 L256.06 443.31 L256.97 442.12 L257.91 440.94 L258.85 439.77 L259.81 438.61 L260.78 437.47 L261.76 436.33 L262.76 435.21 L263.76 434.09 L264.78 432.99 L265.81 431.90 L266.85 430.82 L267.90 429.75 L268.96 428.69 L270.04 427.65 L271.12 426.61 L272.22 425.58 L273.32 424.56 L274.43 423.56 L275.56 422.56 L276.69 421.57 L277.84 420.59 L278.99 419.63 L280.15 418.67 L281.32 417.72 L282.50 416.78 L283.69 415.85 L284.88 414.93 L286.09 414.02 L287.30 413.12 L288.52 412.22 L289.74 411.34 L290.98 410.46 L292.22 409.59 L293.47 408.73 L294.73 407.88 L295.99 407.04 L297.26 406.20 L298.53 405.38 L299.81 404.56 L301.10 403.75 L302.39 402.94 L303.69 402.15 L305.00 401.36 L306.30 400.58 L307.62 399.81 L308.94 399.04 L310.26 398.28 L311.59 397.53 L312.92 396.79 L314.26 396.05 L315.60 395.32 L316.94 394.59 L318.29 393.87 L319.64 393.16 L320.99 392.46 L322.35 391.76 L323.71 391.06 L325.07 390.38 L326.43 389.70 L327.80 389.02 L329.17 388.36 L330.55 387.69 L331.92 387.04 L333.30 386.39 L334.69 385.75 L336.07 385.11 L337.46 384.48 L338.85 383.86 L340.24 383.24 L341.63 382.63 L343.03 382.02 L344.43 381.42 L345.83 380.83 L347.24 380.24 L348.64 379.66 L350.05 379.09 L351.46 378.52 L352.87 377.95 L354.29 377.40 L355.70 376.85 L357.12 376.30 L358.54 375.76 L359.96 375.23 L361.39 374.71 L362.81 374.19 L364.24 373.67 L365.67 373.16 L367.10 372.66 L368.53 372.16 L369.97 371.67 L371.40 371.19 L372.84 370.71 L374.28 370.24 L375.72 369.77 L377.16 369.31 L378.60 368.86 L380.04 368.41 L381.48 367.97 L382.93 367.53 L384.38 367.10 L385.82 366.68 L387.27 366.26 L388.72 365.85 L390.17 365.44 L391.62 365.04 L393.07 364.65 L394.53 364.26 L395.98 363.87 L397.43 363.50 L398.89 363.13 L400.34 362.76 L401.80 362.40 L405.50 364.00 L407.90 360.30 L410.56 361.84 L413.25 363.31 L415.95 364.72 L418.68 366.07 L421.43 367.37 L424.19 368.62 L426.97 369.81 L429.77 370.95 L432.59 372.04 L435.42 373.09 L438.27 374.09 L441.14 375.04 L444.02 375.95 L446.91 376.82 L449.81 377.66 L452.73 378.45 L455.66 379.21 L458.59 379.93 L461.54 380.63 L464.50 381.29 L467.47 381.92 L470.44 382.53 L473.42 383.11 L476.41 383.67 L479.40 384.20 L482.40 384.71 L485.41 385.21 L488.42 385.69 L491.43 386.15 L494.44 386.60 L497.46 387.04 L500.47 387.46 L503.49 387.88 L506.51 388.28 L509.53 388.67 L512.55 389.06 L515.58 389.43 L518.60 389.79 L521.63 390.14 L524.66 390.49 L527.69 390.82 L530.72 391.15 L533.75 391.46 L536.78 391.77 L539.81 392.07 L542.85 392.35 L545.88 392.64 L548.92 392.91 L551.96 393.17 L555.00 393.43 L558.03 393.68 L561.07 393.92 L564.12 394.16 L567.16 394.39 L570.20 394.61 L573.24 394.83 L576.29 395.04 L579.33 395.24 L582.38 395.44 L585.42 395.63 L588.47 395.81 L591.52 395.99 L594.56 396.17 L597.61 396.34 L600.66 396.50 L603.71 396.66 L606.76 396.82 L609.80 396.97 L612.85 397.12 L615.90 397.27 L618.95 397.41 L622.00 397.54 L625.06 397.68 L628.11 397.81 L631.16 397.94 L634.21 398.06 L637.26 398.19 L640.31 398.31 L643.36 398.43 L646.41 398.55 L649.46 398.66 L652.51 398.78 L655.56 398.89 L658.61 399.00 L661.66 399.11 L664.71 399.22 L667.76 399.33 L670.81 399.44 L673.86 399.55 L676.91 399.66 L679.96 399.77 L683.00 399.88 L686.05 399.99 L689.10 400.10 L692.14 400.22 L695.19 400.33 L698.23 400.45 L701.28 400.56 L704.32 400.68 L707.36 400.80 L710.41 400.93 L713.45 401.05 L716.49 401.18 L719.53 401.31 L722.57 401.45 L725.60 401.58 L728.64 401.72 L731.68 401.87 L734.71 402.02 L737.75 402.17 L740.78 402.33 L743.81 402.49 L746.84 402.65 L749.87 402.82 L752.90 403.00 L755.93 403.18 L758.95 403.36 L761.98 403.55 L765.00 403.75" stroke="#24562b" stroke-width="1.7" fill="none" stroke-linejoin="round" stroke-linecap="round"/>
<path d="M244.00 454.00 L247.00 457.00 L250.00 453.00 L251.04 452.14 L252.10 451.31 L253.17 450.49 L254.25 449.68 L255.33 448.89 L256.44 448.11 L257.55 447.35 L258.67 446.60 L259.80 445.87 L260.94 445.15 L262.08 444.44 L263.24 443.75 L264.41 443.06 L265.58 442.39 L266.77 441.73 L267.96 441.09 L269.16 440.45 L270.36 439.83 L271.58 439.21 L272.80 438.61 L274.02 438.02 L275.26 437.43 L276.50 436.86 L277.74 436.29 L278.99 435.74 L280.25 435.19 L281.51 434.65 L282.77 434.12 L284.04 433.59 L285.32 433.08 L286.60 432.57 L287.88 432.06 L289.16 431.57 L290.45 431.08 L291.74 430.59 L293.04 430.11 L294.33 429.64 L295.63 429.17 L296.93 428.71 L298.23 428.25 L299.54 427.79 L300.84 427.34 L302.15 426.89 L303.45 426.45 L304.76 426.01 L306.07 425.57 L307.38 425.13 L308.69 424.70 L310.00 424.28 L311.31 423.85 L312.63 423.43 L313.94 423.01 L315.25 422.60 L316.57 422.19 L317.89 421.78 L319.20 421.38 L320.52 420.98 L321.84 420.58 L323.16 420.18 L324.48 419.79 L325.80 419.40 L327.12 419.02 L328.45 418.63 L329.77 418.25 L331.09 417.87 L332.42 417.50 L333.74 417.13 L335.07 416.76 L336.40 416.39 L337.72 416.02 L339.05 415.66 L340.38 415.30 L341.71 414.95 L343.04 414.59 L344.37 414.24 L345.70 413.89 L347.03 413.54 L348.36 413.20 L349.69 412.85 L351.02 412.51 L352.36 412.17 L353.69 411.84 L355.03 411.50 L356.36 411.17 L357.69 410.84 L359.03 410.51 L360.36 410.18 L361.70 409.86 L363.04 409.54 L364.37 409.21 L365.71 408.89 L367.05 408.58 L368.38 408.26 L369.72 407.95 L371.06 407.63 L372.40 407.32 L373.73 407.01 L375.07 406.70 L376.41 406.40 L377.75 406.09 L379.09 405.79 L380.43 405.48 L381.77 405.18 L383.11 404.88 L384.45 404.58 L385.79 404.29 L387.13 403.99 L388.47 403.69 L389.80 403.40 L391.14 403.10 L392.48 402.81 L393.82 402.52 L395.16 402.23 L396.50 401.94 L397.84 401.65 L399.18 401.36 L400.52 401.07 L401.86 400.79 L403.20 400.50 L406.30 406.50 L408.50 394.00 L410.60 402.00 L413.56 402.38 L416.52 402.76 L419.48 403.13 L422.44 403.50 L425.40 403.85 L428.36 404.21 L431.32 404.55 L434.29 404.89 L437.25 405.23 L440.21 405.55 L443.18 405.88 L446.14 406.19 L449.11 406.50 L452.08 406.81 L455.04 407.11 L458.01 407.40 L460.98 407.69 L463.95 407.98 L466.92 408.26 L469.89 408.53 L472.86 408.80 L475.83 409.06 L478.80 409.32 L481.77 409.57 L484.74 409.82 L487.71 410.06 L490.69 410.30 L493.66 410.53 L496.63 410.76 L499.61 410.99 L502.58 411.21 L505.56 411.42 L508.53 411.63 L511.51 411.84 L514.48 412.04 L517.46 412.24 L520.44 412.43 L523.41 412.62 L526.39 412.81 L529.37 412.99 L532.35 413.17 L535.33 413.34 L538.31 413.51 L541.29 413.68 L544.26 413.84 L547.24 414.00 L550.22 414.16 L553.20 414.31 L556.19 414.46 L559.17 414.60 L562.15 414.74 L565.13 414.88 L568.11 415.02 L571.09 415.15 L574.07 415.28 L577.06 415.41 L580.04 415.53 L583.02 415.65 L586.00 415.77 L588.99 415.88 L591.97 416.00 L594.95 416.10 L597.94 416.21 L600.92 416.32 L603.90 416.42 L606.89 416.52 L609.87 416.62 L612.86 416.71 L615.84 416.80 L618.82 416.89 L621.81 416.98 L624.79 417.07 L627.78 417.15 L630.76 417.24 L633.75 417.32 L636.73 417.40 L639.72 417.47 L642.70 417.55 L645.69 417.62 L648.67 417.70 L651.66 417.77 L654.64 417.84 L657.62 417.91 L660.61 417.97 L663.59 418.04 L666.58 418.10 L669.56 418.17 L672.55 418.23 L675.53 418.29 L678.52 418.35 L681.50 418.41 L684.49 418.47 L687.47 418.53 L690.45 418.59 L693.44 418.65 L696.42 418.70 L699.41 418.76 L702.39 418.81 L705.37 418.87 L708.36 418.93 L711.34 418.98 L714.32 419.04 L717.31 419.09 L720.29 419.14 L723.27 419.20 L726.25 419.25 L729.23 419.31 L732.22 419.36 L735.20 419.42 L738.18 419.47 L741.16 419.53 L744.14 419.59 L747.12 419.64 L750.10 419.70 L753.08 419.76 L756.06 419.82 L759.04 419.88 L762.02 419.94 L765.00 420.00" stroke="#8a2028" stroke-width="1.7" fill="none" stroke-linejoin="round" stroke-linecap="round"/>
<path d="M244.50 453.00 L245.74 452.30 L246.97 451.60 L248.22 450.92 L249.46 450.23 L250.71 449.56 L251.96 448.89 L253.21 448.22 L254.47 447.56 L255.73 446.91 L256.99 446.27 L258.25 445.62 L259.52 444.99 L260.79 444.36 L262.06 443.74 L263.34 443.12 L264.61 442.50 L265.89 441.90 L267.18 441.29 L268.46 440.70 L269.75 440.11 L271.04 439.52 L272.33 438.94 L273.63 438.36 L274.92 437.79 L276.22 437.23 L277.52 436.67 L278.83 436.11 L280.13 435.56 L281.44 435.02 L282.75 434.48 L284.07 433.94 L285.38 433.41 L286.70 432.88 L288.02 432.36 L289.34 431.85 L290.66 431.34 L291.98 430.83 L293.31 430.33 L294.64 429.83 L295.97 429.34 L297.30 428.85 L298.64 428.36 L299.97 427.88 L301.31 427.41 L302.65 426.94 L303.99 426.47 L305.33 426.01 L306.68 425.55 L308.02 425.09 L309.37 424.64 L310.72 424.20 L312.07 423.75 L313.42 423.31 L314.78 422.88 L316.13 422.45 L317.49 422.02 L318.85 421.60 L320.21 421.18 L321.57 420.76 L322.93 420.35 L324.29 419.94 L325.65 419.54 L327.02 419.14 L328.39 418.74 L329.75 418.34 L331.12 417.95 L332.49 417.57 L333.86 417.18 L335.24 416.80 L336.61 416.42 L337.98 416.05 L339.36 415.68 L340.73 415.31 L342.11 414.94 L343.49 414.58 L344.87 414.22 L346.25 413.87 L347.63 413.51 L349.01 413.16 L350.39 412.81 L351.77 412.47 L353.15 412.13 L354.54 411.79 L355.92 411.45 L357.30 411.12 L358.69 410.79 L360.08 410.46 L361.46 410.13 L362.85 409.80 L364.23 409.48 L365.62 409.16 L367.01 408.85 L368.40 408.53 L369.79 408.22 L371.17 407.91 L372.56 407.60 L373.95 407.29 L375.34 406.99 L376.73 406.69 L378.12 406.39 L379.51 406.09 L380.90 405.79 L382.29 405.50 L383.68 405.20 L385.07 404.91 L386.46 404.62 L387.84 404.34 L389.23 404.05 L390.62 403.77 L392.01 403.48 L393.40 403.20 L394.79 402.92 L396.18 402.64 L397.57 402.37 L398.95 402.09 L400.34 401.82 L401.73 401.54 L403.11 401.27 L404.50 401.00 L407.00 405.00 L410.01 405.20 L413.01 405.41 L416.02 405.61 L419.02 405.81 L422.03 406.01 L425.04 406.21 L428.04 406.41 L431.05 406.60 L434.05 406.80 L437.06 406.99 L440.07 407.18 L443.07 407.38 L446.08 407.57 L449.09 407.76 L452.09 407.94 L455.10 408.13 L458.11 408.32 L461.11 408.50 L464.12 408.68 L467.13 408.87 L470.13 409.05 L473.14 409.23 L476.15 409.41 L479.15 409.58 L482.16 409.76 L485.17 409.94 L488.18 410.11 L491.18 410.29 L494.19 410.46 L497.20 410.63 L500.20 410.80 L503.21 410.97 L506.22 411.14 L509.23 411.31 L512.23 411.48 L515.24 411.64 L518.25 411.81 L521.26 411.97 L524.27 412.14 L527.27 412.30 L530.28 412.46 L533.29 412.62 L536.30 412.78 L539.31 412.94 L542.31 413.10 L545.32 413.26 L548.33 413.41 L551.34 413.57 L554.35 413.73 L557.35 413.88 L560.36 414.03 L563.37 414.19 L566.38 414.34 L569.39 414.49 L572.40 414.64 L575.40 414.79 L578.41 414.94 L581.42 415.09 L584.43 415.24 L587.44 415.38 L590.45 415.53 L593.46 415.68 L596.47 415.82 L599.47 415.97 L602.48 416.11 L605.49 416.25 L608.50 416.40 L611.51 416.54 L614.52 416.68 L617.53 416.82 L620.54 416.96 L623.55 417.10 L626.56 417.24 L629.56 417.38 L632.57 417.52 L635.58 417.66 L638.59 417.79 L641.60 417.93 L644.61 418.07 L647.62 418.20 L650.63 418.34 L653.64 418.47 L656.65 418.61 L659.66 418.74 L662.67 418.87 L665.68 419.01 L668.69 419.14 L671.70 419.27 L674.71 419.41 L677.71 419.54 L680.72 419.67 L683.73 419.80 L686.74 419.93 L689.75 420.06 L692.76 420.19 L695.77 420.32 L698.78 420.45 L701.79 420.58 L704.80 420.71 L707.81 420.84 L710.82 420.97 L713.83 421.09 L716.84 421.22 L719.85 421.35 L722.86 421.48 L725.87 421.61 L728.88 421.73 L731.89 421.86 L734.90 421.99 L737.91 422.11 L740.92 422.24 L743.93 422.37 L746.94 422.49 L749.95 422.62 L752.96 422.75 L755.97 422.87 L758.98 423.00 L761.99 423.12 L765.00 423.25" stroke="#000" stroke-width="1.7" fill="none" stroke-linejoin="round" stroke-linecap="round"/>
<path d="M244.50 453.00 L245.03 451.44 L245.62 449.93 L246.25 448.47 L246.94 447.05 L247.68 445.68 L248.46 444.34 L249.29 443.05 L250.16 441.79 L251.07 440.57 L252.02 439.38 L253.00 438.23 L254.02 437.10 L255.07 436.01 L256.16 434.94 L257.27 433.90 L258.41 432.89 L259.57 431.90 L260.76 430.93 L261.97 429.98 L263.19 429.05 L264.44 428.13 L265.70 427.23 L266.97 426.34 L268.25 425.46 L269.55 424.60 L270.85 423.74 L272.16 422.89 L273.47 422.05 L274.79 421.22 L276.12 420.40 L277.46 419.58 L278.80 418.77 L280.15 417.97 L281.50 417.17 L282.86 416.38 L284.22 415.60 L285.59 414.82 L286.97 414.05 L288.35 413.28 L289.73 412.52 L291.11 411.76 L292.50 411.01 L293.90 410.26 L295.29 409.52 L296.69 408.78 L298.09 408.04 L299.50 407.31 L300.90 406.58 L302.31 405.85 L303.72 405.13 L305.13 404.40 L306.54 403.68 L307.95 402.96 L309.36 402.25 L310.77 401.53 L312.19 400.82 L313.60 400.10 L315.01 399.39 L316.42 398.68 L317.83 397.96 L319.24 397.25 L320.64 396.53 L322.05 395.82 L323.45 395.10 L324.85 394.39 L326.25 393.67 L327.65 392.95 L329.05 392.24 L330.44 391.52 L331.84 390.81 L333.23 390.09 L334.63 389.38 L336.02 388.66 L337.41 387.95 L338.80 387.24 L340.20 386.53 L341.59 385.82 L342.98 385.11 L344.37 384.41 L345.77 383.71 L347.16 383.01 L348.56 382.31 L349.95 381.61 L351.35 380.92 L352.75 380.23 L354.14 379.54 L355.54 378.86 L356.95 378.18 L358.35 377.50 L359.75 376.83 L361.16 376.16 L362.57 375.49 L363.98 374.83 L365.39 374.17 L366.80 373.52 L368.22 372.87 L369.64 372.23 L371.06 371.59 L372.49 370.96 L373.92 370.33 L375.35 369.71 L376.79 369.09 L378.22 368.48 L379.67 367.87 L381.11 367.27 L382.56 366.68 L384.01 366.09 L385.47 365.51 L386.93 364.94 L388.40 364.37 L389.87 363.81 L391.34 363.26 L392.82 362.71 L394.30 362.17 L395.79 361.64 L397.29 361.12 L398.79 360.60 L400.29 360.10 L401.80 359.60 L403.50 358.75 L406.00 369.30 L408.98 369.95 L411.96 370.59 L414.94 371.22 L417.92 371.84 L420.90 372.45 L423.88 373.05 L426.87 373.64 L429.85 374.22 L432.84 374.79 L435.83 375.35 L438.82 375.91 L441.81 376.45 L444.80 376.98 L447.79 377.51 L450.79 378.02 L453.78 378.53 L456.78 379.03 L459.78 379.52 L462.78 380.00 L465.77 380.47 L468.77 380.94 L471.78 381.39 L474.78 381.84 L477.78 382.28 L480.78 382.72 L483.79 383.15 L486.79 383.57 L489.80 383.98 L492.81 384.38 L495.82 384.78 L498.83 385.17 L501.84 385.56 L504.85 385.94 L507.86 386.31 L510.87 386.68 L513.88 387.04 L516.90 387.39 L519.91 387.74 L522.93 388.08 L525.94 388.42 L528.96 388.75 L531.98 389.07 L534.99 389.40 L538.01 389.71 L541.03 390.02 L544.05 390.33 L547.07 390.63 L550.09 390.93 L553.11 391.22 L556.14 391.51 L559.16 391.79 L562.18 392.08 L565.20 392.35 L568.23 392.62 L571.25 392.89 L574.28 393.16 L577.30 393.42 L580.33 393.68 L583.35 393.94 L586.38 394.19 L589.41 394.44 L592.43 394.69 L595.46 394.94 L598.49 395.18 L601.51 395.42 L604.54 395.66 L607.57 395.90 L610.60 396.13 L613.63 396.37 L616.66 396.60 L619.69 396.83 L622.72 397.06 L625.75 397.28 L628.77 397.51 L631.80 397.74 L634.83 397.96 L637.86 398.19 L640.89 398.41 L643.92 398.63 L646.95 398.86 L649.99 399.08 L653.02 399.30 L656.05 399.52 L659.08 399.75 L662.11 399.97 L665.14 400.20 L668.17 400.42 L671.20 400.65 L674.23 400.87 L677.26 401.10 L680.29 401.33 L683.31 401.56 L686.34 401.79 L689.37 402.02 L692.40 402.26 L695.43 402.49 L698.46 402.73 L701.49 402.97 L704.52 403.22 L707.54 403.46 L710.57 403.71 L713.60 403.96 L716.63 404.21 L719.65 404.47 L722.68 404.73 L725.70 404.99 L728.73 405.26 L731.75 405.53 L734.78 405.80 L737.80 406.08 L740.83 406.36 L743.85 406.64 L746.87 406.93 L749.90 407.22 L752.92 407.52 L755.94 407.82 L758.96 408.12 L761.98 408.43 L765.00 408.75" stroke="#000" stroke-width="1.7" fill="none" stroke-linejoin="round" stroke-linecap="round"/>
<path d="M244.50 453.00 L244.81 451.05 L245.17 449.13 L245.57 447.23 L246.02 445.35 L246.50 443.49 L247.02 441.65 L247.58 439.83 L248.18 438.04 L248.81 436.26 L249.48 434.50 L250.19 432.77 L250.93 431.05 L251.70 429.34 L252.50 427.66 L253.34 425.99 L254.21 424.34 L255.11 422.71 L256.03 421.09 L256.99 419.49 L257.97 417.90 L258.98 416.33 L260.01 414.77 L261.07 413.23 L262.15 411.70 L263.26 410.18 L264.38 408.68 L265.53 407.19 L266.70 405.70 L267.89 404.24 L269.10 402.78 L270.32 401.33 L271.57 399.89 L272.82 398.46 L274.10 397.05 L275.39 395.64 L276.69 394.23 L278.00 392.84 L279.33 391.45 L280.67 390.08 L282.02 388.70 L283.37 387.34 L284.74 385.98 L286.11 384.62 L287.49 383.28 L288.88 381.93 L290.27 380.59 L291.66 379.25 L293.06 377.92 L294.46 376.59 L295.86 375.26 L297.27 373.94 L298.67 372.62 L300.08 371.30 L301.49 369.98 L302.90 368.67 L304.32 367.36 L305.74 366.06 L307.16 364.76 L308.58 363.46 L310.01 362.17 L311.43 360.89 L312.87 359.60 L314.30 358.33 L315.74 357.05 L317.18 355.79 L318.63 354.53 L320.07 353.27 L321.53 352.02 L322.98 350.78 L324.44 349.54 L325.91 348.31 L327.38 347.08 L328.85 345.86 L330.32 344.65 L331.81 343.45 L333.29 342.25 L334.78 341.06 L336.28 339.87 L337.78 338.70 L339.28 337.53 L340.79 336.37 L342.31 335.22 L343.83 334.08 L345.35 332.95 L346.88 331.82 L348.42 330.70 L349.96 329.60 L351.51 328.50 L353.07 327.41 L354.63 326.33 L356.19 325.26 L357.77 324.20 L359.35 323.15 L360.93 322.11 L362.53 321.09 L364.12 320.07 L365.73 319.06 L367.34 318.07 L368.96 317.08 L370.59 316.11 L372.22 315.15 L373.87 314.20 L375.51 313.26 L377.17 312.33 L378.84 311.42 L380.51 310.52 L382.19 309.63 L383.88 308.75 L385.57 307.89 L387.28 307.04 L388.99 306.20 L390.71 305.37 L392.44 304.56 L394.18 303.77 L395.92 302.99 L397.68 302.22 L399.44 301.46 L401.22 300.72 L403.00 300.00 L404.50 302.00 L406.50 318.00 L409.40 319.06 L412.31 320.11 L415.21 321.14 L418.12 322.17 L421.04 323.18 L423.95 324.19 L426.87 325.18 L429.79 326.16 L432.72 327.13 L435.65 328.09 L438.58 329.05 L441.51 329.99 L444.45 330.92 L447.39 331.84 L450.33 332.75 L453.28 333.65 L456.22 334.54 L459.18 335.42 L462.13 336.29 L465.08 337.15 L468.04 338.01 L471.00 338.85 L473.96 339.68 L476.93 340.51 L479.90 341.32 L482.87 342.13 L485.84 342.93 L488.82 343.72 L491.79 344.50 L494.77 345.27 L497.75 346.03 L500.74 346.79 L503.72 347.53 L506.71 348.27 L509.70 349.00 L512.69 349.73 L515.69 350.44 L518.68 351.15 L521.68 351.84 L524.68 352.54 L527.68 353.22 L530.69 353.89 L533.69 354.56 L536.70 355.22 L539.71 355.88 L542.72 356.53 L545.73 357.17 L548.75 357.80 L551.76 358.42 L554.78 359.04 L557.80 359.66 L560.82 360.26 L563.84 360.86 L566.87 361.46 L569.89 362.04 L572.92 362.62 L575.94 363.20 L578.97 363.77 L582.00 364.33 L585.04 364.89 L588.07 365.44 L591.10 365.98 L594.14 366.52 L597.17 367.06 L600.21 367.59 L603.25 368.11 L606.29 368.63 L609.33 369.14 L612.37 369.65 L615.42 370.15 L618.46 370.65 L621.50 371.15 L624.55 371.64 L627.60 372.12 L630.64 372.60 L633.69 373.08 L636.74 373.55 L639.79 374.02 L642.84 374.48 L645.89 374.94 L648.94 375.40 L651.99 375.85 L655.04 376.30 L658.09 376.74 L661.15 377.18 L664.20 377.62 L667.26 378.06 L670.31 378.49 L673.36 378.92 L676.42 379.34 L679.47 379.76 L682.53 380.18 L685.59 380.60 L688.64 381.01 L691.70 381.42 L694.75 381.83 L697.81 382.24 L700.87 382.64 L703.92 383.04 L706.98 383.44 L710.03 383.84 L713.09 384.24 L716.15 384.63 L719.20 385.02 L722.26 385.41 L725.31 385.80 L728.37 386.19 L731.42 386.57 L734.48 386.96 L737.53 387.34 L740.59 387.72 L743.64 388.10 L746.69 388.48 L749.75 388.86 L752.80 389.24 L755.85 389.62 L758.90 390.00 L761.95 390.37 L765.00 390.75" stroke="#000" stroke-width="1.7" fill="none" stroke-linejoin="round" stroke-linecap="round"/>
<path d="M244.50 453.00 L245.19 450.80 L245.88 448.60 L246.57 446.40 L247.26 444.20 L247.95 441.99 L248.64 439.79 L249.34 437.58 L250.03 435.37 L250.73 433.16 L251.43 430.95 L252.14 428.74 L252.84 426.52 L253.55 424.31 L254.27 422.10 L254.98 419.89 L255.71 417.67 L256.43 415.46 L257.16 413.25 L257.90 411.03 L258.64 408.82 L259.39 406.61 L260.14 404.40 L260.90 402.19 L261.67 399.99 L262.44 397.78 L263.22 395.58 L264.00 393.37 L264.80 391.17 L265.60 388.97 L266.41 386.78 L267.23 384.58 L268.06 382.39 L268.89 380.20 L269.74 378.01 L270.59 375.83 L271.46 373.65 L272.34 371.47 L273.22 369.30 L274.12 367.13 L275.03 364.96 L275.94 362.80 L276.88 360.64 L277.82 358.48 L278.77 356.33 L279.74 354.18 L280.72 352.04 L281.71 349.90 L282.72 347.77 L283.74 345.64 L284.77 343.52 L285.82 341.41 L286.88 339.29 L287.96 337.19 L289.05 335.09 L290.16 333.00 L291.28 330.91 L292.42 328.84 L293.57 326.77 L294.74 324.71 L295.92 322.67 L297.13 320.63 L298.34 318.61 L299.58 316.60 L300.83 314.60 L302.10 312.62 L303.39 310.65 L304.69 308.70 L306.01 306.76 L307.35 304.84 L308.71 302.94 L310.09 301.05 L311.49 299.18 L312.90 297.33 L314.33 295.51 L315.79 293.70 L317.26 291.91 L318.75 290.15 L320.26 288.41 L321.80 286.69 L323.35 285.00 L324.92 283.33 L326.52 281.69 L328.13 280.07 L329.77 278.48 L331.42 276.92 L333.10 275.38 L334.80 273.88 L336.53 272.40 L338.27 270.96 L340.04 269.54 L341.83 268.16 L343.64 266.81 L345.48 265.49 L347.34 264.21 L349.22 262.96 L351.13 261.74 L353.06 260.56 L355.01 259.42 L356.99 258.31 L359.00 257.24 L361.02 256.21 L363.08 255.22 L365.16 254.27 L367.26 253.36 L369.39 252.49 L371.54 251.66 L373.73 250.87 L375.93 250.13 L378.17 249.43 L380.43 248.78 L382.71 248.17 L385.03 247.60 L387.37 247.09 L389.74 246.62 L392.13 246.19 L394.56 245.82 L397.01 245.50 L399.49 245.22 L402.00 245.00 L404.00 246.00 L406.25 265.00 L408.93 266.72 L411.63 268.42 L414.34 270.09 L417.05 271.74 L419.78 273.38 L422.51 274.98 L425.26 276.57 L428.02 278.14 L430.78 279.69 L433.56 281.21 L436.34 282.72 L439.13 284.21 L441.94 285.67 L444.75 287.12 L447.57 288.55 L450.39 289.95 L453.23 291.34 L456.08 292.71 L458.93 294.07 L461.79 295.40 L464.66 296.72 L467.54 298.02 L470.42 299.30 L473.31 300.56 L476.21 301.81 L479.12 303.04 L482.03 304.25 L484.95 305.45 L487.88 306.63 L490.81 307.80 L493.75 308.95 L496.70 310.08 L499.65 311.20 L502.61 312.31 L505.58 313.40 L508.55 314.47 L511.52 315.53 L514.51 316.58 L517.49 317.62 L520.49 318.64 L523.49 319.64 L526.49 320.64 L529.50 321.62 L532.51 322.58 L535.53 323.54 L538.55 324.48 L541.58 325.41 L544.61 326.33 L547.65 327.24 L550.69 328.13 L553.73 329.01 L556.78 329.89 L559.84 330.75 L562.89 331.60 L565.95 332.43 L569.02 333.26 L572.09 334.08 L575.16 334.89 L578.23 335.68 L581.31 336.47 L584.39 337.25 L587.48 338.02 L590.57 338.77 L593.66 339.52 L596.75 340.26 L599.85 341.00 L602.95 341.72 L606.05 342.43 L609.15 343.14 L612.25 343.84 L615.36 344.53 L618.47 345.21 L621.58 345.89 L624.70 346.55 L627.81 347.21 L630.93 347.87 L634.05 348.51 L637.17 349.15 L640.29 349.79 L643.41 350.42 L646.53 351.04 L649.66 351.65 L652.78 352.26 L655.91 352.87 L659.04 353.47 L662.16 354.06 L665.29 354.65 L668.42 355.24 L671.55 355.81 L674.68 356.39 L677.80 356.96 L680.93 357.53 L684.06 358.09 L687.19 358.65 L690.32 359.21 L693.44 359.76 L696.57 360.31 L699.70 360.86 L702.82 361.40 L705.95 361.94 L709.07 362.48 L712.19 363.02 L715.31 363.56 L718.43 364.09 L721.55 364.62 L724.67 365.15 L727.78 365.68 L730.90 366.21 L734.01 366.74 L737.12 367.26 L740.22 367.79 L743.33 368.32 L746.43 368.84 L749.53 369.37 L752.63 369.89 L755.73 370.42 L758.82 370.94 L761.91 371.47 L765.00 372.00" stroke="#000" stroke-width="1.7" fill="none" stroke-linejoin="round" stroke-linecap="round"/>
<path d="M139.00 452.50 L244.50 453.00 L244.75 449.84 L245.02 446.68 L245.32 443.52 L245.63 440.37 L245.97 437.22 L246.32 434.07 L246.70 430.93 L247.09 427.79 L247.50 424.65 L247.93 421.52 L248.38 418.39 L248.84 415.26 L249.32 412.13 L249.81 409.01 L250.32 405.88 L250.84 402.76 L251.38 399.65 L251.93 396.53 L252.49 393.42 L253.06 390.31 L253.64 387.20 L254.23 384.09 L254.84 380.98 L255.45 377.88 L256.07 374.78 L256.70 371.67 L257.34 368.57 L257.98 365.48 L258.63 362.38 L259.28 359.28 L259.94 356.19 L260.61 353.09 L261.28 350.00 L261.95 346.90 L262.62 343.81 L263.30 340.72 L263.98 337.63 L264.66 334.54 L265.34 331.45 L266.01 328.36 L266.69 325.27 L267.37 322.18 L268.04 319.09 L268.72 316.00 L269.39 312.91 L270.06 309.82 L270.74 306.73 L271.42 303.65 L272.10 300.56 L272.78 297.48 L273.48 294.39 L274.17 291.31 L274.87 288.23 L275.58 285.15 L276.30 282.07 L277.03 279.00 L277.77 275.92 L278.52 272.85 L279.28 269.79 L280.05 266.72 L280.84 263.66 L281.64 260.60 L282.46 257.54 L283.29 254.49 L284.14 251.44 L285.01 248.39 L285.90 245.35 L286.80 242.31 L287.73 239.28 L288.68 236.25 L289.65 233.22 L290.64 230.20 L291.66 227.18 L292.70 224.17 L293.77 221.16 L294.86 218.16 L295.98 215.16 L297.13 212.17 L298.31 209.18 L299.52 206.20 L300.77 203.24 L302.06 200.30 L303.41 197.40 L304.83 194.56 L306.32 191.78 L307.90 189.08 L309.58 186.48 L311.37 183.98 L313.28 181.60 L315.31 179.35 L317.49 177.25 L319.81 175.31 L322.29 173.53 L324.92 171.93 L327.67 170.49 L330.53 169.21 L333.49 168.08 L336.52 167.11 L339.62 166.29 L342.76 165.61 L345.94 165.06 L349.16 164.63 L352.40 164.31 L355.65 164.07 L358.92 163.92 L362.19 163.83 L365.45 163.79 L368.71 163.79 L371.94 163.81 L375.16 163.85 L378.35 163.89 L381.53 163.92 L384.69 163.93 L387.83 163.91 L390.95 163.86 L394.06 163.75 L397.15 163.57 L400.23 163.33 L403.30 163.00 L405.20 175.00 L406.80 187.50 L409.22 189.80 L411.66 192.06 L414.11 194.30 L416.59 196.50 L419.09 198.68 L421.60 200.83 L424.13 202.95 L426.68 205.05 L429.24 207.11 L431.82 209.15 L434.42 211.16 L437.04 213.15 L439.67 215.11 L442.32 217.04 L444.98 218.95 L447.66 220.83 L450.35 222.68 L453.06 224.51 L455.79 226.32 L458.53 228.10 L461.28 229.86 L464.05 231.59 L466.83 233.30 L469.62 234.99 L472.43 236.65 L475.25 238.30 L478.08 239.92 L480.93 241.51 L483.79 243.09 L486.66 244.65 L489.54 246.18 L492.44 247.69 L495.34 249.19 L498.26 250.66 L501.19 252.11 L504.13 253.54 L507.07 254.96 L510.03 256.35 L513.00 257.73 L515.98 259.09 L518.97 260.43 L521.96 261.75 L524.97 263.06 L527.98 264.34 L531.01 265.62 L534.04 266.87 L537.08 268.11 L540.12 269.33 L543.18 270.54 L546.24 271.73 L549.30 272.91 L552.38 274.07 L555.46 275.21 L558.55 276.35 L561.64 277.47 L564.75 278.57 L567.85 279.66 L570.97 280.74 L574.08 281.80 L577.21 282.86 L580.34 283.90 L583.47 284.93 L586.61 285.94 L589.76 286.95 L592.91 287.94 L596.06 288.92 L599.22 289.89 L602.38 290.85 L605.55 291.80 L608.72 292.74 L611.89 293.67 L615.07 294.59 L618.25 295.50 L621.43 296.41 L624.62 297.30 L627.81 298.18 L631.00 299.06 L634.20 299.93 L637.39 300.79 L640.59 301.65 L643.80 302.49 L647.00 303.33 L650.20 304.17 L653.41 304.99 L656.62 305.81 L659.82 306.63 L663.03 307.44 L666.24 308.24 L669.45 309.04 L672.67 309.84 L675.88 310.63 L679.09 311.41 L682.30 312.19 L685.51 312.97 L688.72 313.75 L691.93 314.52 L695.14 315.29 L698.35 316.05 L701.56 316.82 L704.76 317.58 L707.97 318.34 L711.17 319.10 L714.37 319.85 L717.57 320.61 L720.77 321.36 L723.96 322.12 L727.15 322.87 L730.34 323.63 L733.53 324.38 L736.71 325.14 L739.89 325.89 L743.07 326.65 L746.24 327.41 L749.41 328.17 L752.58 328.93 L755.74 329.69 L758.90 330.46 L762.05 331.23 L765.20 332.00" stroke="#000" stroke-width="1.7" fill="none" stroke-linejoin="round" stroke-linecap="round"/>
<g class="lbl" style="opacity:0.999">
<g transform="translate(68.50,518.50) scale(1,1.08)"><text x="-19.014" y="0" font-size="19" stroke="#111" stroke-width="0.15">-</text><path transform="translate(-12.687,0) scale(0.009277,-0.009277)" d="M763 0H583V1147Q518 1085 412 1023Q307 961 223 930V1104Q374 1175 487 1276Q600 1377 647 1409H763Z" fill="#111" stroke="#111" stroke-width="16.2"/><text x="-2.120" y="0" font-size="19" stroke="#111" stroke-width="0.15">0</text><text x="8.447" y="0" font-size="19" stroke="#111" stroke-width="0.15">0</text></g>
<text transform="translate(157.50,518.50) scale(1,1.08)" text-anchor="middle" font-size="19" stroke="#111" stroke-width="0.15">-50</text>
<text transform="translate(245.60,518.50) scale(1,1.08)" text-anchor="middle" font-size="19" stroke="#111" stroke-width="0.15">0</text>
<text transform="translate(335.50,518.50) scale(1,1.08)" text-anchor="middle" font-size="19" stroke="#111" stroke-width="0.15">50</text>
<g transform="translate(424.30,518.50) scale(1,1.08)"><path transform="translate(-15.850,0) scale(0.009277,-0.009277)" d="M763 0H583V1147Q518 1085 412 1023Q307 961 223 930V1104Q374 1175 487 1276Q600 1377 647 1409H763Z" fill="#111" stroke="#111" stroke-width="16.2"/><text x="-5.283" y="0" font-size="19" stroke="#111" stroke-width="0.15">0</text><text x="5.283" y="0" font-size="19" stroke="#111" stroke-width="0.15">0</text></g>
<g transform="translate(512.60,518.50) scale(1,1.08)"><path transform="translate(-15.850,0) scale(0.009277,-0.009277)" d="M763 0H583V1147Q518 1085 412 1023Q307 961 223 930V1104Q374 1175 487 1276Q600 1377 647 1409H763Z" fill="#111" stroke="#111" stroke-width="16.2"/><text x="-5.283" y="0" font-size="19" stroke="#111" stroke-width="0.15">5</text><text x="5.283" y="0" font-size="19" stroke="#111" stroke-width="0.15">0</text></g>
<text transform="translate(602.50,518.50) scale(1,1.08)" text-anchor="middle" font-size="19" stroke="#111" stroke-width="0.15">200</text>
<text transform="translate(691.00,518.50) scale(1,1.08)" text-anchor="middle" font-size="19" stroke="#111" stroke-width="0.15">250</text>
<text transform="translate(780.50,518.50) scale(1,1.08)" text-anchor="middle" font-size="19" stroke="#111" stroke-width="0.15">300</text>
<text transform="translate(55.70,494.90) scale(1,1.08)" text-anchor="end" font-size="19" stroke="#111" stroke-width="0.15">-5</text>
<text transform="translate(55.70,421.90) scale(1,1.08)" text-anchor="end" font-size="19" stroke="#111" stroke-width="0.15">5</text>
<g transform="translate(55.70,350.00) scale(1,1.08)"><path transform="translate(-21.134,0) scale(0.009277,-0.009277)" d="M763 0H583V1147Q518 1085 412 1023Q307 961 223 930V1104Q374 1175 487 1276Q600 1377 647 1409H763Z" fill="#111" stroke="#111" stroke-width="16.2"/><text x="-10.567" y="0" font-size="19" stroke="#111" stroke-width="0.15">5</text></g>
<text transform="translate(55.70,277.90) scale(1,1.08)" text-anchor="end" font-size="19" stroke="#111" stroke-width="0.15">25</text>
<text transform="translate(55.70,205.90) scale(1,1.08)" text-anchor="end" font-size="19" stroke="#111" stroke-width="0.15">35</text>
<text transform="translate(55.70,132.90) scale(1,1.08)" text-anchor="end" font-size="19" stroke="#111" stroke-width="0.15">45</text>
<text transform="translate(23.00,65.50) scale(1,1.05)" text-anchor="start" font-size="19" stroke="#111" stroke-width="0.15" letter-spacing="-1">RU</text>
<text transform="translate(376.00,549.00) scale(1,1.08)" text-anchor="start" font-size="19" font-weight="bold" stroke="#111" stroke-width="0.3">Tim</text>
<text transform="translate(413.00,549.00) scale(1,1.08)" text-anchor="start" font-size="19" font-weight="bold" stroke="#111" stroke-width="0.3">e</text>
<text transform="translate(790.00,549.00) scale(1,1.0)" text-anchor="start" font-size="17" font-weight="bold" stroke="#111" stroke-width="0.3">s</text>
<text transform="translate(17.00,347.00) rotate(-90) scale(1.08,1.0)" text-anchor="start" font-size="17.5" font-weight="bold" stroke="#111" stroke-width="0.3">Response</text>
</g>
</svg>
</body></html>
